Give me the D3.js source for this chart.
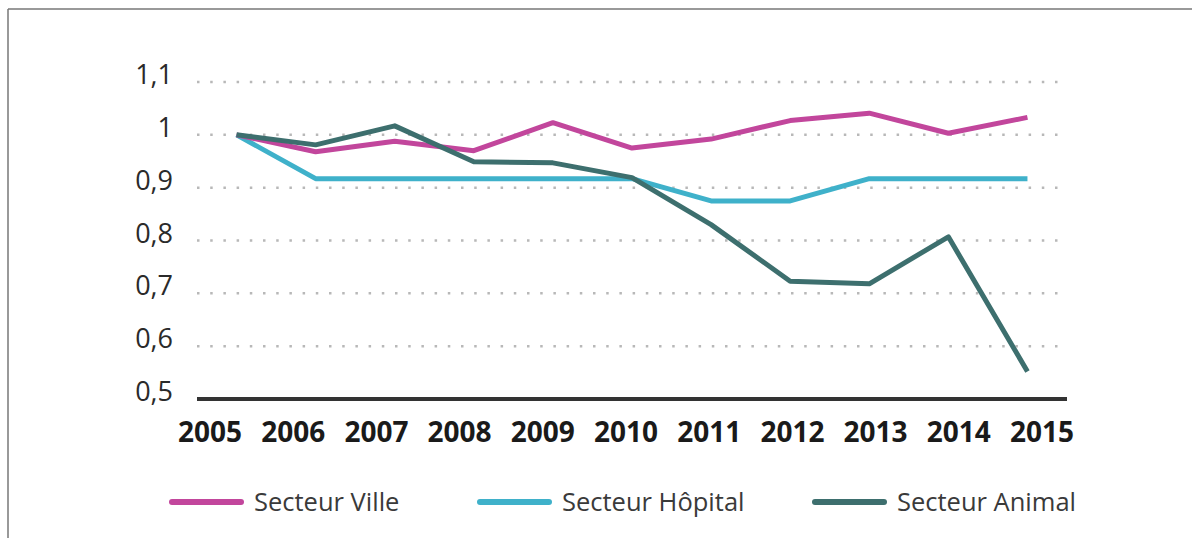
<!DOCTYPE html>
<html><head><meta charset="utf-8">
<script src="https://cdn.jsdelivr.net/npm/d3@7"></script>
<style>
html,body{margin:0;padding:0;background:#fff;}
svg{display:block;}
</style>
</head><body>
<svg id="chart" width="1192" height="538"></svg>
<script>
const years = ["2005","2006","2007","2008","2009","2010","2011","2012","2013","2014","2015"];
const yTicks = [0.5,0.6,0.7,0.8,0.9,1.0,1.1];
const seriesNames = ["Secteur Ville","Secteur Hôpital","Secteur Animal"];
const ville   = [1.0,0.968,0.988,0.970,1.023,0.975,0.992,1.027,1.041,1.003,1.033];
const hopital = [1.0,0.917,0.917,0.917,0.917,0.917,0.875,0.875,0.917,0.917,0.917];
const animal  = [1.0,0.981,1.017,0.949,0.947,0.919,0.830,0.723,0.718,0.807,0.552];
const colors  = ["#c2469c","#3fb1ca","#3d6f6e"];

const svg = d3.select("#chart");
const W = 1192, H = 538;

// frame (top & left border)
svg.append("line").attr("x1",8).attr("x2",W).attr("y1",9).attr("y2",9).attr("stroke","#777").attr("stroke-width",1.5);
svg.append("line").attr("x1",8).attr("x2",8).attr("y1",9).attr("y2",H).attr("stroke","#777").attr("stroke-width",1.5);

const left = 197, right = 1067;
const x = d3.scalePoint().domain(years).range([left,right]).padding(0.5);
const xLab = d3.scalePoint().domain(years).range([210,1042]);
const y = d3.scaleLinear().domain([0.5,1.1]).range([399,82]);

// gridlines
svg.append("g").selectAll("line").data(yTicks.filter(v=>v>0.5)).join("line")
  .attr("x1",left).attr("x2",right)
  .attr("y1",d=>y(d)).attr("y2",d=>y(d))
  .attr("stroke","#b8b8b8").attr("stroke-width",2.5)
  .attr("stroke-dasharray","2.5,10.7");

// y labels
const fmt = d => d3.format(".1~f")(d).replace(".",",");
svg.append("g").selectAll("text").data(yTicks).join("text")
  .attr("x",173).attr("y",d=>y(d)+2)
  .attr("text-anchor","end")
  .attr("font-family","'Open Sans', sans-serif")
  .attr("font-weight",500)
  .attr("font-size",27).attr("fill","#2a2a2a")
  .text(fmt);

// x axis baseline
svg.append("line").attr("x1",left).attr("x2",right).attr("y1",y(0.5)).attr("y2",y(0.5))
  .attr("stroke","#333").attr("stroke-width",4);

// x labels
svg.append("g").selectAll("text").data(years).join("text")
  .attr("x",d=>xLab(d)).attr("y",442)
  .attr("text-anchor","middle")
  .attr("font-family","'Open Sans', sans-serif")
  .attr("font-weight",700)
  .attr("font-size",28).attr("fill","#1a1a1a")
  .text(d=>d);

// lines
const data = [ville,hopital,animal];
const line = d3.line().x((d,i)=>x(years[i])).y(d=>y(d));
svg.append("g").selectAll("path").data([hopital,ville,animal]).join("path")
  .attr("d",line)
  .attr("fill","none")
  .attr("stroke",(d)=>colors[data.indexOf(d)])
  .attr("stroke-width",5)
  .attr("stroke-linejoin","round");

// legend
const legX = [172,480,815];
const lg = svg.append("g").selectAll("g").data(seriesNames).join("g")
  .attr("transform",(d,i)=>`translate(${legX[i]},502)`);
lg.append("line").attr("x1",0).attr("x2",69).attr("y1",0).attr("y2",0)
  .attr("stroke",(d,i)=>colors[i]).attr("stroke-width",6).attr("stroke-linecap","round");
lg.append("text").attr("x",82).attr("y",9)
  .attr("font-family","'Open Sans', sans-serif")
  .attr("font-size",25.5).attr("fill","#3a3a3a")
  .text(d=>d);
</script>
</body></html>
